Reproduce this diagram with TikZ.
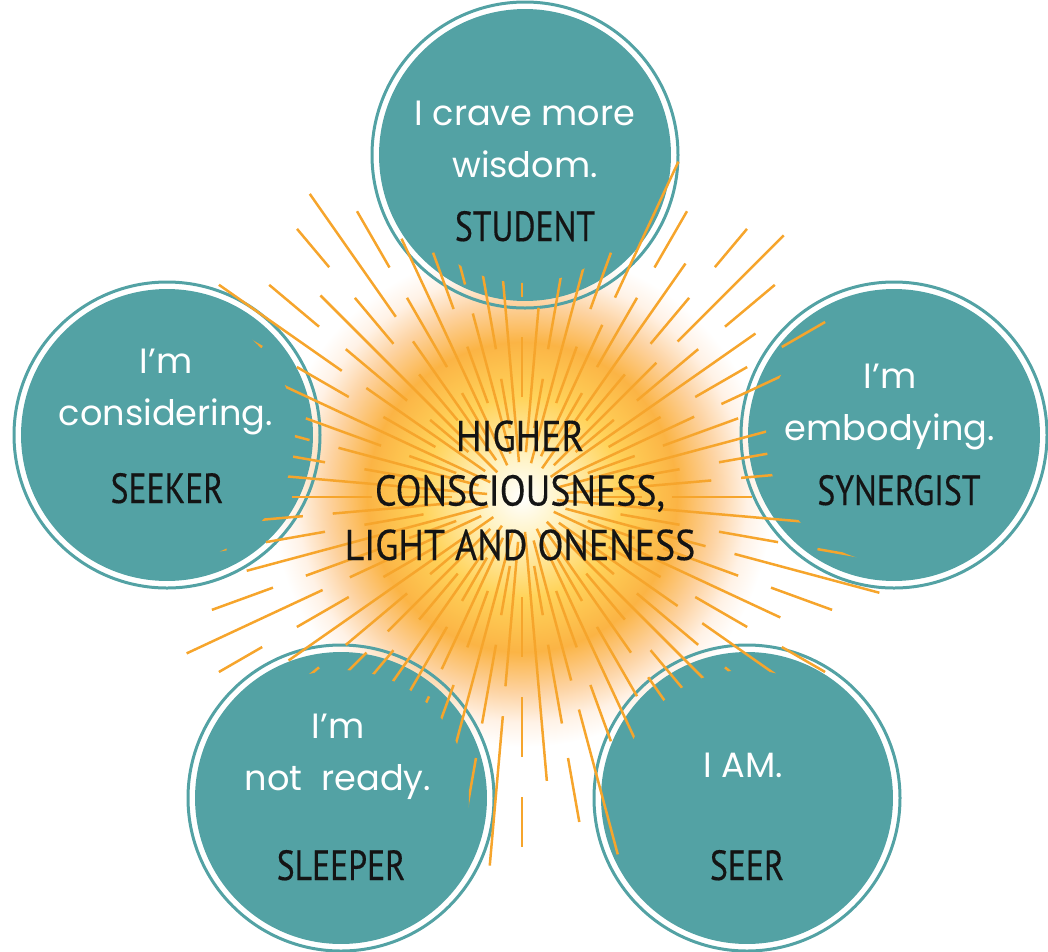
\documentclass[tikz,border=0pt]{standalone}
\usepackage{fontspec}
\setmainfont{PT Sans}
\newfontfamily\thinfont{Poppins}
\newfontfamily\rolefont[FakeStretch=0.8,FakeBold=0.3]{PT Sans}
\newfontfamily\corefont[FakeStretch=0.88,FakeBold=0.3]{PT Sans}
\usetikzlibrary{positioning}
\definecolor{stageteal}{HTML}{53A2A4}
\definecolor{rayorange}{HTML}{F6A52C}
\definecolor{glowA}{HTML}{FFF3C4}
\definecolor{glowB}{HTML}{FFD35A}
\definecolor{glowC}{HTML}{FBB445}
\definecolor{glowD}{HTML}{FDD3A2}
\definecolor{glowE}{HTML}{FFF2E6}
\pgfdeclareradialshading{sunglow}{\pgfpoint{0bp}{0bp}}{color(0bp)=(white); color(4bp)=(glowA); color(10bp)=(glowB); color(15.5bp)=(glowC); color(19.5bp)=(glowD); color(22.5bp)=(glowE); color(25bp)=(white); color(50bp)=(white)}

\begin{document}
\begin{tikzpicture}[x=0.02cm, y=-0.02cm,
	stage/.style={circle, fill=stageteal, minimum size=5.84cm, inner sep=0pt},
	ring/.style={draw=stageteal, line width=0.06cm},
	ray/.style={draw=rayorange, line width=0.05cm},
	saying/.style={anchor=base, align=center, text=white, font=\thinfont\fontsize{20}{29.5}\selectfont},
	role/.style={anchor=base, text=black!92, font=\rolefont\fontsize{24}{28}\selectfont},
	core/.style={anchor=base, align=center, text=black!92, font=\corefont\fontsize{24.5}{31}\selectfont}]

  \useasboundingbox (0,0) rectangle (1048,951);

  % glow behind everything
  \coordinate (sun) at (522,497);
  \shade[shading=sunglow] (sun) circle[radius=250];

  % the five stages
  \node[stage] (student) at (525,155) {};
  \node[stage] (seeker) at (167,435) {};
  \node[stage] (synergist) at (894,435) {};
  \node[stage] (sleeper) at (341,798) {};
  \node[stage] (seer) at (747,798) {};
  \foreach \s in {student,seeker,synergist,sleeper,seer}
    \draw[ring] (\s) circle[radius=153];

  % rays, kept off the middle of the circles
  \begin{scope}[even odd rule]
    \clip (0,0) rectangle (1048,951)
      (student) circle[radius=128] (seeker) circle[radius=128]
      (synergist) circle[radius=128] (sleeper) circle[radius=128]
      (seer) circle[radius=128];
    \begin{scope}[shift={(sun)}]
      \foreach \a [count=\i] in {0,5,...,355}{
        \pgfmathtruncatemacro\k{mod(\i,4)}
        \ifcase\k
          \draw[ray] (\a:45) -- (\a:190) (\a:220) -- (\a:370);
        \or
          \draw[ray] (\a:70) -- (\a:120) (\a:150) -- (\a:230) (\a:265) -- (\a:330);
        \or
          \draw[ray] (\a:35) -- (\a:285);
        \or
          \draw[ray] (\a:100) -- (\a:160) (\a:200) -- (\a:260) (\a:300) -- (\a:350);
        \fi
      }
    \end{scope}
  \end{scope}

  % texts
  \node[saying] (student-say) at (525,177) {I crave more\\wisdom.};
  \node[role] (student-role) at (525,241) {STUDENT};
  \node[saying] (seeker-say) at (166,425) {I’m\\considering.};
  \node[role] (seeker-role) at (167,503) {SEEKER};
  \node[saying] (synergist-say) at (890,440) {I’m\\embodying.};
  \node[role] (synergist-role) at (899,505) {SYNERGIST};
  \node[saying] (sleeper-say) at (338,790) {I’m\\not~ ready.};
  \node[role] (sleeper-role) at (341,880) {SLEEPER};
  \node[saying] (seer-say) at (743,777) {I AM.};
  \node[role] (seer-role) at (747,880) {SEER};
  \node[core] (core-text) at (520,560) {HIGHER\\CONSCIOUSNESS,\\LIGHT AND ONENESS};
\end{tikzpicture}
\end{document}
